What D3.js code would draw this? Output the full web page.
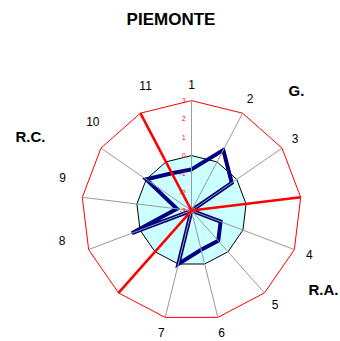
<!DOCTYPE html>
<html>
<head>
<meta charset="utf-8">
<script src="https://cdn.jsdelivr.net/npm/d3@7"></script>
<style>
  html, body { margin: 0; padding: 0; background: #fff; }
  svg { display: block; }
</style>
</head>
<body>
<svg id="chart" width="340" height="341"></svg>
<script>
// ---- data ----
const title = "PIEMONTE";
const categories = ["1", "2", "3", "", "4", "5", "6", "7", "", "8", "9", "10", "11"];
const piemonte = [-0.75, 0.73, -0.33, -3, -1.3, -0.8, -0.8, 0.0, -3, 0.48, -2.2, 0.0, -0.7];
const separators = [-3, -3, -3, 3, -3, -3, -3, -3, 3, -3, -3, -3, 3];
const outline = [3, 3, 3, 3, 3, 3, 3, 3, 3, 3, 3, 3, 3];
const reference = [0, 0, 0, 0, 0, 0, 0, 0, 0, 0, 0, 0, 0];
const tickValues = [3, 2, 1, 0, -1, -2, -3];
const groupLabels = ["G.", "R.A.", "R.C."];

// ---- layout ----
const cx = 191.5, cy = 210.6, R = 110;
const groupOffsets = [[105, -120], [132, 79], [-161, -74]];
const font = "'Liberation Sans', Arial, sans-serif";

const svg = d3.select("#chart");
const n = categories.length;
const r = d3.scaleLinear().domain([-3, 3]).range([0, R]);
const angle = d3.scaleLinear().domain([0, n]).range([0, 2 * Math.PI]);

const g = svg.append("g").attr("transform", `translate(${cx},${cy})`);

const radial = d3.lineRadial()
  .angle((d, i) => angle(i))
  .radius(d => r(d))
  .curve(d3.curveLinearClosed);

// reference area (value 0)
g.append("path")
  .attr("d", radial(reference))
  .attr("fill", "#ccffff")
  .attr("stroke", "#000")
  .attr("stroke-width", 1);

// outer red polygon
g.append("path")
  .attr("d", radial(outline))
  .attr("fill", "none")
  .attr("stroke", "#ff0000")
  .attr("stroke-width", 1);

// series
g.append("path")
  .attr("d", radial(piemonte))
  .attr("fill", "none")
  .attr("stroke", "#000080")
  .attr("stroke-width", 4)
  .attr("stroke-linejoin", "miter");

// spokes
g.selectAll("line.spoke")
  .data(categories)
  .join("line")
  .attr("class", "spoke")
  .attr("x1", 0).attr("y1", 0)
  .attr("x2", (d, i) => r(3) * Math.sin(angle(i)))
  .attr("y2", (d, i) => -r(3) * Math.cos(angle(i)))
  .attr("stroke", "#9a9a9a")
  .attr("stroke-width", 1);

// separators
g.append("path")
  .attr("d", radial(separators))
  .attr("fill", "none")
  .attr("stroke", "#ff0000")
  .attr("stroke-width", 2.5);

// radial tick labels
g.selectAll("text.tick")
  .data(tickValues)
  .join("text")
  .attr("class", "tick")
  .attr("x", -6)
  .attr("y", d => -r(d))
  .attr("dy", "0.35em")
  .attr("text-anchor", "end")
  .attr("font-family", font)
  .attr("font-size", 6.5)
  .attr("fill", "#ff0000")
  .text(d => d);

// category labels
g.selectAll("text.cat")
  .data(categories)
  .join("text")
  .attr("class", "cat")
  .each(function (d, i) {
    const a0 = angle(i);
    const left = Math.sin(a0) < -0.3;
    const a = a0 + (left ? 7.5 * Math.PI / 180 : 0);
    const rr = left ? r(3) + 23 : r(3) + 16;
    d3.select(this)
      .attr("x", rr * Math.sin(a))
      .attr("y", -rr * Math.cos(a));
  })
  .attr("dy", "0.35em")
  .attr("text-anchor", "middle")
  .attr("font-family", font)
  .attr("font-size", 12)
  .attr("fill", "#000")
  .text(d => d);

// group labels
g.selectAll("text.group")
  .data(groupLabels)
  .join("text")
  .attr("class", "group")
  .attr("x", (d, i) => groupOffsets[i][0])
  .attr("y", (d, i) => groupOffsets[i][1])
  .attr("dy", "0.35em")
  .attr("text-anchor", "middle")
  .attr("font-family", font)
  .attr("font-weight", "bold")
  .attr("font-size", 15)
  .attr("fill", "#000")
  .text(d => d);

// title
svg.append("text")
  .attr("x", 171)
  .attr("y", 19)
  .attr("dy", "0.35em")
  .attr("text-anchor", "middle")
  .attr("font-family", font)
  .attr("font-weight", "bold")
  .attr("font-size", 17)
  .attr("fill", "#000")
  .text(title);
</script>
</body>
</html>
